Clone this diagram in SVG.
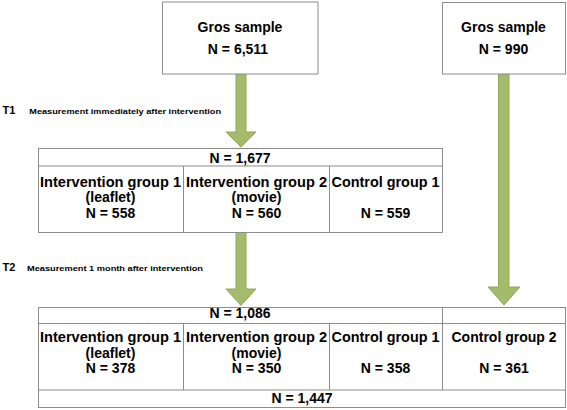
<svg xmlns="http://www.w3.org/2000/svg" width="567" height="410" viewBox="0 0 567 410">
<style>
text{font-family:"Liberation Sans",Arial,sans-serif;font-weight:bold;fill:#000}
.t{font-size:14px;text-anchor:middle}
.c{font-size:14px;text-anchor:middle}
.lbl{font-size:11px}
.sm{font-size:7.5px}
.box{fill:#fff;stroke:#8c8c8c;stroke-width:1}
.ln{stroke:#8c8c8c;stroke-width:1;fill:none}
.arr{fill:#a3bb6a;stroke:#90a85a;stroke-width:1}
</style>
<rect width="567" height="410" fill="#fff"/>
<g id="connectors">
<path class="arr" d="M236,74 H246 V132 H256 L241,147 L226,132 H236 Z"/>
<path class="arr" d="M236,232.5 H246 V289 H256 L241,305.5 L226,289 H236 Z"/>
<path class="arr" d="M498.5,74 H509 V287 H520 L504,305 L488,287 H498.5 Z"/>
</g>
<g id="gross-sample-1">
<rect class="box" x="162.5" y="2" width="155.5" height="72"/>
<text class="t" x="240" y="32">Gros sample</text>
<text class="t" x="238" y="53.5">N = 6,511</text>
</g>
<g id="gross-sample-2">
<rect class="box" x="442.5" y="2.5" width="123" height="71.5"/>
<text class="t" x="503.5" y="32">Gros sample</text>
<text class="t" x="503.5" y="53.5">N = 990</text>
</g>
<g id="label-t1">
<text class="lbl" x="2.5" y="113.5">T1</text>
<text class="sm" x="29.3" y="113.5" textLength="191.7" lengthAdjust="spacingAndGlyphs">Measurement immediately after intervention</text>
</g>
<g id="label-t2">
<text class="lbl" x="2.5" y="270.5">T2</text>
<text class="sm" x="27" y="270.5" textLength="176" lengthAdjust="spacingAndGlyphs">Measurement 1 month after intervention</text>
</g>
<g id="t1-table">
<rect class="box" x="38.5" y="148.5" width="404" height="84"/>
<path class="ln" d="M38.5,166 H442.5 M183.5,166 V232.5 M329.5,166 V232.5"/>
<g id="t1-total"><text class="c" x="240" y="162.7">N = 1,677</text></g>
<g id="t1-ig1">
<text class="c" x="110.5" y="186.5" textLength="141" lengthAdjust="spacingAndGlyphs">Intervention group 1</text>
<text class="c" x="110.5" y="202">(leaflet)</text>
<text class="c" x="110.5" y="217.7">N = 558</text>
</g>
<g id="t1-ig2">
<text class="c" x="256.5" y="186.5" textLength="141" lengthAdjust="spacingAndGlyphs">Intervention group 2</text>
<text class="c" x="256.5" y="202">(movie)</text>
<text class="c" x="256.5" y="217.7">N = 560</text>
</g>
<g id="t1-cg1">
<text class="c" x="385.5" y="186.5" textLength="108" lengthAdjust="spacingAndGlyphs">Control group 1</text>
<text class="c" x="385.5" y="217.7">N = 559</text>
</g>
</g>
<g id="t2-table">
<rect class="box" x="38.5" y="307.5" width="527" height="100"/>
<path class="ln" d="M38.5,323.5 H565.5 M38.5,390 H565.5 M183.5,323.5 V390 M329.5,323.5 V390 M442.5,307.5 V390"/>
<g id="t2-subtotal"><text class="c" x="240" y="318.3">N = 1,086</text></g>
<g id="t2-ig1">
<text class="c" x="110.5" y="342.2" textLength="141" lengthAdjust="spacingAndGlyphs">Intervention group 1</text>
<text class="c" x="110.5" y="357.6">(leaflet)</text>
<text class="c" x="110.5" y="373.3">N = 378</text>
</g>
<g id="t2-ig2">
<text class="c" x="256.5" y="342.2" textLength="141" lengthAdjust="spacingAndGlyphs">Intervention group 2</text>
<text class="c" x="256.5" y="357.6">(movie)</text>
<text class="c" x="256.5" y="373.3">N = 350</text>
</g>
<g id="t2-cg1">
<text class="c" x="385.5" y="342.2" textLength="108" lengthAdjust="spacingAndGlyphs">Control group 1</text>
<text class="c" x="385.5" y="373.3">N = 358</text>
</g>
<g id="t2-cg2">
<text class="c" x="504" y="342.2">Control group 2</text>
<text class="c" x="504" y="373.3">N = 361</text>
</g>
<g id="t2-total"><text class="c" x="302" y="402.7">N = 1,447</text></g>
</g>
</svg>
